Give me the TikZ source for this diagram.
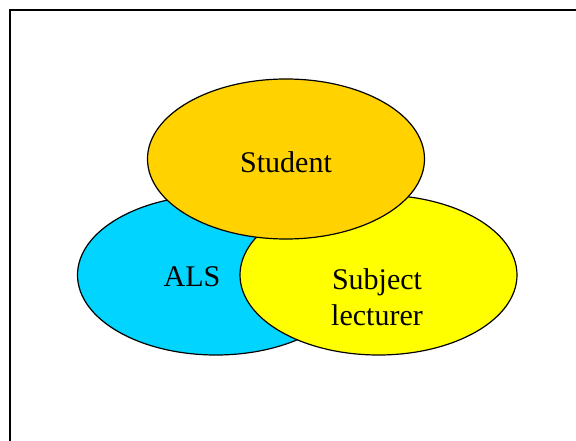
\documentclass[tikz,border=0pt]{standalone}
\usepackage{fontspec}
\setmainfont{Liberation Serif}
\usepackage{xcolor}
\usepackage{tikz}
\usetikzlibrary{positioning,shapes.geometric}
\definecolor{alsblue}{HTML}{00D4FF}
\definecolor{subjyellow}{HTML}{FFFF00}
\definecolor{studgold}{HTML}{FFD200}
\tikzset{
  blob/.style={ellipse,draw=black,line width=1.2pt,inner sep=0pt,
    minimum width=277pt,minimum height=160pt},
  blobals/.style={blob,fill=alsblue},
  blobsubj/.style={blob,fill=subjyellow},
  blobstud/.style={blob,fill=studgold},
  tag/.style={inner sep=0pt,align=center,font=\fontsize{30}{36}\selectfont},
  frameline/.style={draw=black,line width=2.2pt},
}
\begin{document}
\begin{tikzpicture}[x=1pt,y=-1pt]
  \useasboundingbox (0,0) rectangle (576,441);
  % frame, only its top and left sides are on the page
  \coordinate (fbl) at (10,441);
  \coordinate (ftl) at (10,10);
  \coordinate (ftr) at (576,10);
  \draw[frameline] (fbl) -- (ftl) -- (ftr);
  % three overlapping groups
  \node[blobals](als) at (216,275){};
  \node[blobsubj](subj) at (378.5,275){};
  \node[blobstud](stud) at (286,159){};
  \node[tag](alst) at (192,277){ALS};
  \node[tag](subjt) at (377,297){Subject\\lecturer};
  \node[tag](studt) at (286,162){Student};
\end{tikzpicture}
\end{document}
